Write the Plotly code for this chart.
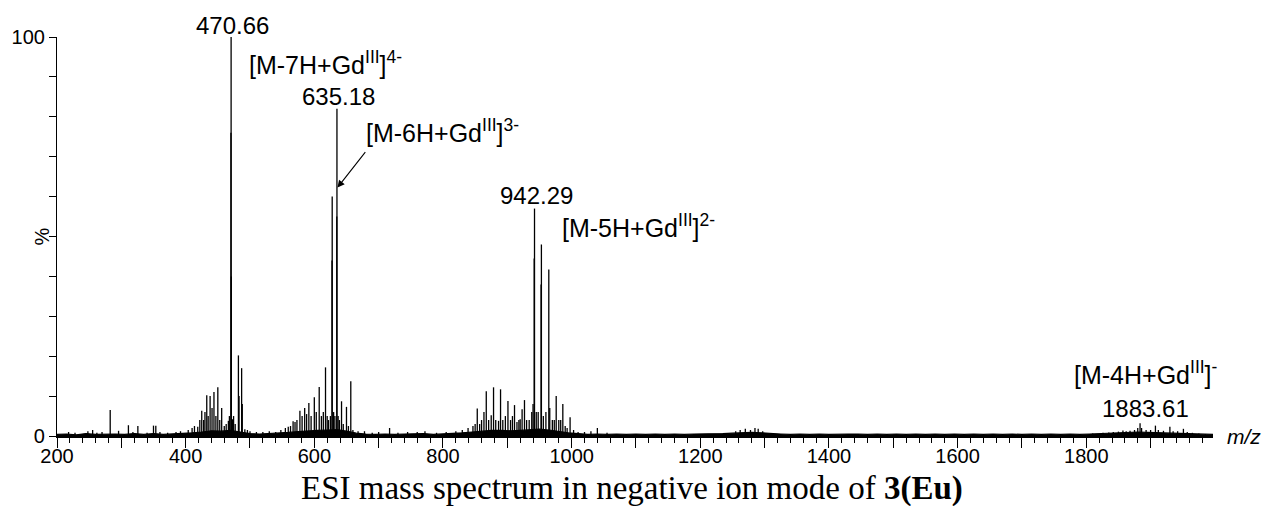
import plotly.graph_objects as go

# ---- data ----
peak_mz = [
    218, 228, 248, 255.4, 262, 270, 282.7, 295.7, 311, 318, 325.7, 340, 350, 353.6, 360, 372, 385, 392,
    404, 410, 413.7, 418.8, 422, 425, 428, 430, 432.8, 435, 438, 441, 444, 447, 450, 453, 456, 460, 463,
    466.4, 468, 470.41, 470.66, 471, 473, 474.5, 477, 482, 483, 487, 488, 492, 496, 500, 510, 520, 530,
    540, 548, 555, 559.5, 563, 567, 570, 573, 577.6, 581, 585, 588, 591.5, 595, 600, 603, 607.6, 611,
    614, 617.4, 620, 622, 625, 627.5, 627.8, 630, 632, 634.9, 635.18, 637, 639, 642.3, 645, 650, 653,
    656.7, 660, 668, 678, 690, 700, 717, 730, 745, 760, 772, 790, 805, 820, 830, 839, 846.6, 850, 853.3,
    857, 860, 863.7, 867.3, 871, 875, 878.6, 882, 886.4, 889.5, 893, 897, 901, 905, 908, 911.2, 915,
    918, 920, 923, 926.7, 930, 934, 938, 940, 941.8, 942.29, 945, 948, 952.5, 953, 956, 960, 964.5, 966,
    970, 973, 976, 980, 983, 986.3, 990, 993, 997.6, 1003, 1010, 1020, 1030, 1040, 1055,
    1255, 1262, 1270, 1278, 1285, 1290, 1297,
    1810, 1826, 1835, 1842, 1850, 1857, 1862, 1868, 1875, 1880, 1883.61, 1886, 1893, 1900, 1907.5,
    1912, 1920, 1930, 1935, 1942, 1951, 1957, 1965, 1975, 1985,
]
peak_int = [
    1.0, 0.8, 1.2, 1.5, 0.8, 1.0, 6.5, 1.3, 2.7, 1.0, 2.5, 0.8, 2.6, 2.6, 1.0, 0.8, 1.0, 1.2,
    1.5, 2.0, 2.5, 2.3, 4.0, 6.3, 4.0, 6.0, 10.2, 5.0, 10.0, 7.0, 11.0, 5.0, 12.2, 4.0, 7.0, 2.5, 3.0,
    3.8, 5.0, 76.0, 100.0, 40.0, 4.2, 5.0, 3.0, 20.2, 10.0, 17.0, 8.0, 1.7, 1.5, 1.2, 1.0, 1.0, 1.2,
    1.0, 1.5, 2.0, 2.3, 2.5, 3.7, 3.5, 4.0, 6.3, 5.0, 7.0, 5.5, 8.3, 5.0, 9.7, 6.0, 12.3, 5.0,
    6.0, 17.2, 5.0, 4.0, 5.0, 44.0, 60.0, 6.0, 5.0, 55.0, 82.0, 5.0, 4.0, 8.7, 3.0, 7.3, 2.5,
    13.7, 1.5, 1.2, 1.2, 0.8, 1.0, 2.0, 0.8, 1.0, 1.0, 1.2, 0.8, 1.0, 1.2, 1.5, 2.0, 2.5, 3.0, 6.9,
    3.0, 4.0, 6.0, 11.2, 4.0, 5.2, 12.2, 4.0, 3.8, 11.7, 4.0, 5.0, 8.8, 4.0, 5.0, 7.75, 3.5,
    4.0, 4.2, 6.7, 9.0, 4.0, 4.0, 6.0, 8.0, 44.5, 57.0, 6.0, 6.0, 38.0, 48.0, 5.0, 6.0, 41.7, 7.0,
    4.0, 4.0, 10.0, 4.0, 4.0, 8.0, 2.5, 2.0, 4.7, 1.5, 1.0, 1.0, 1.2, 2.0, 0.8,
    1.2, 1.5, 1.8, 1.5, 2.0, 1.8, 1.2,
    0.6, 0.8, 0.9, 1.0, 1.1, 1.4, 1.2, 1.3, 1.5, 2.0, 3.2, 2.0, 1.5, 1.5, 2.6,
    1.5, 1.3, 2.3, 1.2, 1.2, 1.8, 1.0, 0.8, 0.6, 0.5,
]

# baseline noise (m/z, intensity)
noise_mz = [200, 215, 230, 245, 260, 275, 290, 305, 320, 335, 350, 365, 380, 395, 410, 425, 440, 455,
            470, 485, 500, 515, 530, 545, 560, 575, 590, 605, 620, 635, 650, 665, 680, 695, 710, 725,
            740, 755, 770, 785, 800, 815, 830, 845, 860, 875, 890, 905, 920, 935, 950, 965, 980, 995,
            1010, 1025, 1040, 1055, 1070, 1085, 1100, 1115, 1130, 1145, 1160, 1175, 1190, 1205, 1220,
            1235, 1250, 1265, 1280, 1295, 1310, 1325, 1340, 1355, 1370, 1385, 1400, 1415, 1430, 1445,
            1460, 1475, 1490, 1505, 1520, 1535, 1550, 1565, 1580, 1595, 1610, 1625, 1640, 1655, 1670,
            1685, 1700, 1715, 1730, 1745, 1760, 1775, 1790, 1805, 1820, 1835, 1850, 1865, 1880, 1895,
            1910, 1925, 1940, 1955, 1970, 1985, 1997]
noise_int = [0.4, 0.5, 0.3, 0.6, 0.4, 0.5, 0.5, 0.4, 0.6, 0.4, 0.6, 0.4, 0.5, 0.6, 0.8, 1.0, 1.3, 1.2,
             1.4, 1.0, 0.6, 0.5, 0.6, 0.7, 0.9, 1.1, 1.3, 1.4, 1.5, 1.6, 1.2, 0.7, 0.5, 0.4, 0.5, 0.4,
             0.5, 0.5, 0.6, 0.4, 0.5, 0.6, 0.8, 1.0, 1.2, 1.4, 1.4, 1.3, 1.4, 1.6, 1.7, 1.5, 1.1, 0.8,
             0.6, 0.4, 0.5, 0.4, 0.5, 0.4, 0.5, 0.4, 0.5, 0.4, 0.5, 0.4, 0.5, 0.5, 0.5,
             0.6, 0.7, 0.8, 0.9, 0.8, 0.6, 0.5, 0.4, 0.5, 0.4, 0.5, 0.4, 0.5, 0.5, 0.5,
             0.4, 0.5, 0.4, 0.5, 0.4, 0.5, 0.4, 0.5, 0.4, 0.5, 0.4, 0.5, 0.4, 0.5, 0.4,
             0.5, 0.4, 0.5, 0.4, 0.5, 0.4, 0.5, 0.4, 0.5, 0.6, 0.7, 0.8, 0.9, 1.0, 0.9,
             0.8, 0.8, 0.7, 0.6, 0.5, 0.4, 0.4]

x_tick_vals = list(range(200, 2000, 100))
x_tick_text = ["200", "", "400", "", "600", "", "800", "", "1000", "", "1200", "", "1400", "", "1600", "", "1800", ""]
y_tick_vals = list(range(0, 101, 10))
y_tick_text = ["0", "", "", "", "", "", "", "", "", "", "100"]

# ---- build stick segments ----
sx, sy = [], []
for m, h in zip(peak_mz, peak_int):
    sx += [m, m, None]
    sy += [0, h, None]

fig = go.Figure()
fig.add_trace(go.Scatter(x=noise_mz, y=noise_int, mode="lines", fill="tozeroy",
                         fillcolor="black", line=dict(color="black", width=1.2),
                         hoverinfo="skip", showlegend=False))
fig.add_trace(go.Scatter(x=sx, y=sy, mode="lines", line=dict(color="black", width=1.3),
                         showlegend=False))

FONT = "Liberation Sans, Arial, sans-serif"
ann_font = dict(family=FONT, size=24, color="black")
ion_font = dict(family=FONT, size=25, color="black")
anns = [
    dict(x=637.6, y=85, text="635.18", xanchor="center", font=ann_font),
    dict(x=494.8, y=93.5, text="[M-7H+Gd<sup>III</sup>]<sup>4-</sup>", xanchor="left", font=ion_font),
    dict(x=678, y=76.5, text="[M-6H+Gd<sup>III</sup>]<sup>3-</sup>", xanchor="left", font=ion_font),
    dict(x=944.9, y=60.25, text="942.29", xanchor="center", font=ann_font),
    dict(x=982, y=52.75, text="[M-5H+Gd<sup>III</sup>]<sup>2-</sup>", xanchor="left", font=ion_font),
    dict(x=1778, y=15.75, text="[M-4H+Gd<sup>III</sup>]<sup>-</sup>", xanchor="left", font=ion_font),
    dict(x=1891.5, y=7.0, text="1883.61", xanchor="center", font=ann_font),
]
annotations = []
for a in anns:
    a.update(xref="x", yref="y", yanchor="middle", showarrow=False)
    annotations.append(a)
# top label placed in paper coords (above the axis range)
annotations.append(dict(x=(231 - 55) / 1158, y=(436 - 25) / 399, xref="paper", yref="paper",
                        xanchor="center", yanchor="middle", text="470.66", showarrow=False, font=ann_font))
# arrow to 635.18
annotations.append(dict(x=636, y=62.25, xref="x", yref="y", ax=29, ay=-37, axref="pixel", ayref="pixel",
                        text="", showarrow=True, arrowhead=2, arrowsize=1.3, arrowwidth=1.1,
                        arrowcolor="black"))
annotations.append(dict(x=1.0104, y=0.0, xref="paper", yref="paper", xanchor="left", yanchor="middle",
                        text="<i>m/z</i>", showarrow=False, font=dict(family=FONT, size=21, color="black")))
annotations.append(dict(x=-0.013, y=0.5, xref="paper", yref="paper", xanchor="center", yanchor="middle",
                        text="%", textangle=-90, showarrow=False,
                        font=dict(family=FONT, size=20, color="black")))
annotations.append(dict(x=0.497, y=(436 - 488) / 399, xref="paper", yref="paper", xanchor="center",
                        yanchor="middle",
                        text="ESI mass spectrum in negative ion mode of <b>3(Eu)</b>", showarrow=False,
                        font=dict(family="Liberation Serif, Times New Roman, serif", size=33, color="black")))

fig.update_layout(
    width=1262, height=506,
    margin=dict(l=55, r=49, t=37, b=70),
    paper_bgcolor="white", plot_bgcolor="white",
    showlegend=False,
    annotations=annotations,
    font=dict(family=FONT, size=20, color="black"),
)
fig.update_xaxes(range=[200, 1997], showgrid=False, zeroline=False, showline=True,
                 linecolor="black", linewidth=1.5, ticks="outside", ticklen=10, tickwidth=1.3,
                 tickcolor="black", tickvals=x_tick_vals, ticktext=x_tick_text,
                 ticklabelstandoff=-9,
                 tickfont=dict(family=FONT, size=20, color="black"),
                 minor=dict(dtick=20, tick0=200, ticks="outside", ticklen=5, tickwidth=1.2, tickcolor="black"))
fig.update_yaxes(range=[0, 100], showgrid=False, zeroline=False, showline=True,
                 linecolor="black", linewidth=1.2, ticks="outside", ticklen=7, tickwidth=1.2,
                 tickcolor="black", tickvals=y_tick_vals, ticktext=y_tick_text,
                 tickfont=dict(family=FONT, size=20, color="black"))

fig.write_html("out.html")
